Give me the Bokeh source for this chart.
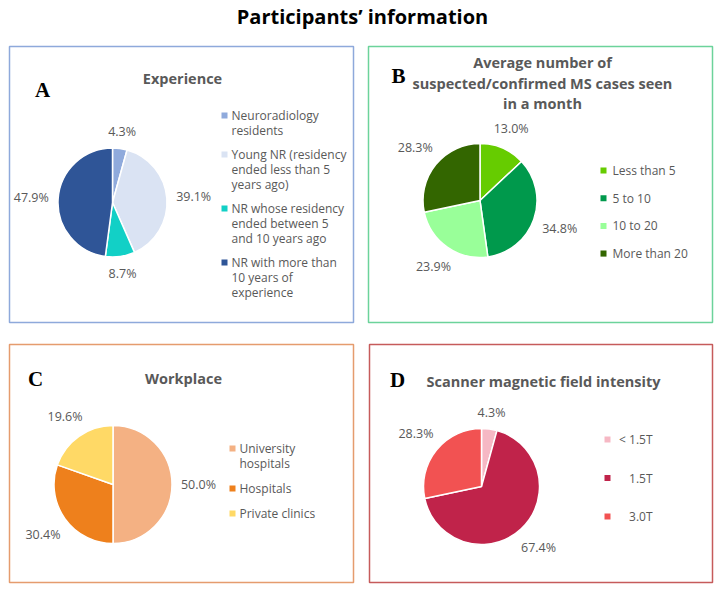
import math
from bokeh.plotting import figure
from bokeh.models import Range1d
from bokeh.core.properties import value
from bokeh.embed import file_html
from bokeh.resources import INLINE

# ---------------- data ----------------
main_title = "Participants\u2019 information"

exp_title = ["Experience"]
exp_labels = ["Neuroradiology\nresidents",
              "Young NR (residency\nended less than 5\nyears ago)",
              "NR whose residency\nended between 5\nand 10 years ago",
              "NR with more than\n10 years of\nexperience"]
exp_values = [4.3, 39.1, 8.7, 47.9]
exp_colors = ["#8FAADC", "#DAE3F3", "#12D0C6", "#2F5597"]

cases_title = ["Average number of", "suspected/confirmed MS cases seen", "in a month"]
cases_labels = ["Less than 5", "5 to 10", "10 to 20", "More than 20"]
cases_values = [13.0, 34.8, 23.9, 28.3]
cases_colors = ["#66CC00", "#00994C", "#99FF99", "#336600"]

work_title = ["Workplace"]
work_labels = ["University\nhospitals", "Hospitals", "Private clinics"]
work_values = [50.0, 30.4, 19.6]
work_colors = ["#F4B183", "#EE801C", "#FFD966"]

field_title = ["Scanner magnetic field intensity"]
field_labels = ["< 1.5T", "1.5T", "3.0T"]
field_values = [4.3, 67.4, 28.3]
field_colors = ["#F6B8C4", "#C0234A", "#F25252"]

panel_letters = ["A", "B", "C", "D"]

# ---------------- layout ----------------
W, H = 720, 590
TXT = "#595959"
FONT = "Open Sans"

p = figure(width=W, height=H, x_range=Range1d(0, W), y_range=Range1d(0, H),
           output_backend="svg", toolbar_location=None, min_border=0,
           x_axis_type=None, y_axis_type=None)
p.grid.visible = False
p.outline_line_color = None
p.background_fill_color = "white"
p.border_fill_color = "white"


def X(x):
    return x


def Y(y):
    return H - y


def box(x0, y0, x1, y1, color):
    p.quad(left=[X(x0)], right=[X(x1)], top=[Y(y0)], bottom=[Y(y1)],
           fill_color=None, line_color=color, line_width=1.5)


def texts(xs, ys, ts, size, color=TXT, bold=False, align="center", font=FONT):
    p.text(x=[X(v) for v in xs], y=[Y(v) for v in ys], text=ts,
           text_font=value(font), text_font_size=value(size),
           text_font_style="bold" if bold else "normal",
           text_color=color, text_align=align, text_baseline="middle")


def pie(values, colors, cx, cy, r, gap=9):
    total = sum(values)
    cum = 0.0
    starts, ends = [], []
    for v in values:
        a0 = math.pi / 2 - 2 * math.pi * cum / total
        cum += v
        a1 = math.pi / 2 - 2 * math.pi * cum / total
        starts.append(a0)
        ends.append(a1)
    n = len(values)
    p.wedge(x=[X(cx)] * n, y=[Y(cy)] * n, radius=r, start_angle=starts,
            end_angle=ends, direction="clock", fill_color=colors,
            line_color="white", line_width=1.5)
    lx, ly, lt = [], [], []
    for v, a0, a1 in zip(values, starts, ends):
        mid = (a0 + a1) / 2
        t = f"{v:.1f}%"
        w = len(t) * 7.0
        h = 12
        d = r + gap + abs(math.cos(mid)) * w / 2 + abs(math.sin(mid)) * h / 2
        lx.append(cx + d * math.cos(mid))
        ly.append(cy - d * math.sin(mid))
        lt.append(t)
    texts(lx, ly, lt, "12.5px")


def legend(labels, colors, mx, tx, y0, lh, gap, align="left"):
    y = y0
    mxs, mys, xs, ys, ts = [], [], [], [], []
    for lab, col in zip(labels, colors):
        lines = lab.split("\n")
        mxs.append(X(mx))
        mys.append(Y(y))
        for j, line in enumerate(lines):
            xs.append(tx)
            ys.append(y + j * lh)
            ts.append(line)
        y += len(lines) * lh + gap
    p.scatter(x=mxs, y=mys, marker="square", size=6, fill_color=colors,
              line_color=None)
    texts(xs, ys, ts, "12px", align=align)


# main title
texts([362], [16], [main_title], "20px", color="#000000", bold=True)

# panel boxes
box(9, 46, 353, 322, "#8EA9DB")
box(368, 46, 712, 322, "#6CD39B")
box(9, 344, 353, 582, "#E59C6E")
box(369, 344, 712, 582, "#C65B5B")

# panel letters
texts([42, 398, 35, 397], [89, 75, 378, 379], panel_letters, "21px",
      color="#000000", bold=True, font="Liberation Serif")

# Panel A
texts([182], [78], exp_title, "14.5px", bold=True)
pie(exp_values, exp_colors, 112, 202, 54.5)
legend(exp_labels, exp_colors, 224, 231, 115, 15, 9)

# Panel B
texts([542, 542, 542], [62, 83, 103], cases_title, "14.5px", bold=True)
pie(cases_values, cases_colors, 479.5, 200, 57)
legend(cases_labels, cases_colors, 603, 612, 170, 15, 12.7)

# Panel C
texts([183], [378], work_title, "14.5px", bold=True)
pie(work_values, work_colors, 112.5, 484, 59)
legend(work_labels, work_colors, 232, 239, 448, 15, 10)

# Panel D
texts([543], [381], field_title, "14.5px", bold=True)
pie(field_values, field_colors, 481, 486, 58)
legend(field_labels, field_colors, 607, 652, 439, 15, 23.5, align="right")

open("out.html", "w").write(file_html(p, INLINE))
